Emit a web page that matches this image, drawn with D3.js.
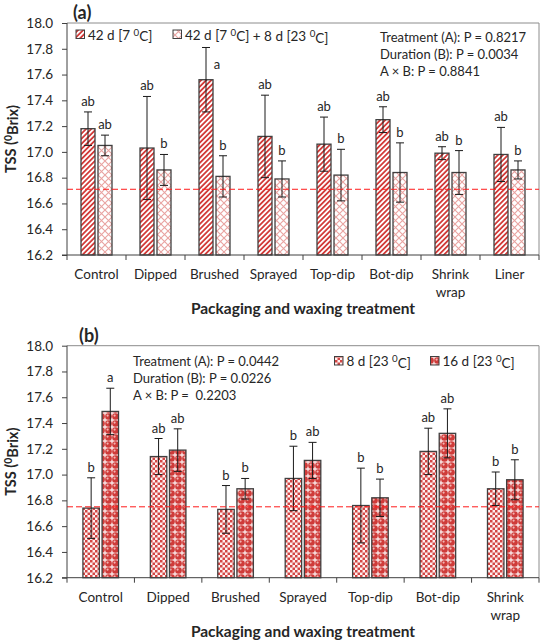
<!DOCTYPE html>
<html><head><meta charset="utf-8">
<script src="https://cdn.jsdelivr.net/npm/d3@7"></script>
<style>
body{margin:0;background:#fff}
svg{display:block}
text{font-family:Lato,"Open Sans",sans-serif;fill:#262626}
</style>
</head><body>
<svg id="chart" width="543" height="642"></svg>
<script>
// ---------- DATA ----------
const categoriesA = ["Control","Dipped","Brushed","Sprayed","Top-dip","Bot-dip","Shrink\nwrap","Liner"];
const seriesNamesA = ["42 d [7 ^0C]","42 d [7 ^0C] + 8 d [23 ^0C]"];
const meansA1 = [17.18,17.03,17.56,17.12,17.06,17.25,16.99,16.98];
const errA1   = [0.13,0.40,0.25,0.32,0.21,0.10,0.05,0.21];
const lettersA1 = ["ab","ab","a","ab","ab","ab","ab","ab"];
const meansA2 = [17.05,16.86,16.81,16.79,16.82,16.84,16.84,16.86];
const errA2   = [0.08,0.12,0.16,0.14,0.20,0.23,0.17,0.07];
const lettersA2 = ["ab","b","b","b","b","b","b","b"];
const refLineA = 16.71;
const statsA = ["Treatment (A): P = 0.8217","Duration (B): P = 0.0034","A × B: P = 0.8841"];

const categoriesB = ["Control","Dipped","Brushed","Sprayed","Top-dip","Bot-dip","Shrink\nwrap"];
const seriesNamesB = ["8 d [23 ^0C]","16 d [23 ^0C]"];
const meansB1 = [16.74,17.14,16.73,16.97,16.76,17.18,16.89];
const errB1   = [0.235,0.14,0.185,0.25,0.29,0.18,0.13];
const lettersB1 = ["b","ab","b","b","b","ab","b"];
const meansB2 = [17.49,17.19,16.89,17.11,16.82,17.32,16.96];
const errB2   = [0.18,0.165,0.08,0.14,0.145,0.19,0.155];
const lettersB2 = ["a","ab","b","ab","b","ab","b"];
const refLineB = 16.75;
const statsB = ["Treatment (A): P = 0.0442","Duration (B): P = 0.0226","A × B: P =  0.2203"];

const yTicks = [16.2,16.4,16.6,16.8,17.0,17.2,17.4,17.6,17.8,18.0];
const yTitle = "TSS (^0Brix)";
const xTitle = "Packaging and waxing treatment";

// ---------- DRAW ----------
const svg = d3.select("#chart");
const defs = svg.append("defs");

// patterns
(function(){
  let p = defs.append("pattern").attr("id","pStripe").attr("patternUnits","userSpaceOnUse")
    .attr("width",3.6).attr("height",3.6).attr("patternTransform","rotate(45)");
  p.append("rect").attr("width",3.6).attr("height",3.6).attr("fill","#fff");
  p.append("rect").attr("width",1.8).attr("height",3.6).attr("fill","#d23c3a");

  p = defs.append("pattern").attr("id","pCross").attr("patternUnits","userSpaceOnUse")
    .attr("width",7).attr("height",7);
  p.append("rect").attr("width",7).attr("height",7).attr("fill","#fff");
  p.append("path").attr("d","M0,0L7,7M7,0L0,7").attr("stroke","#e9a3a1").attr("stroke-width",1.1);

  p = defs.append("pattern").attr("id","pCheck").attr("patternUnits","userSpaceOnUse")
    .attr("width",5).attr("height",5);
  p.append("rect").attr("width",5).attr("height",5).attr("fill","#fdf1f1");
  p.append("rect").attr("width",2.5).attr("height",2.5).attr("fill","#d34644");
  p.append("rect").attr("x",2.5).attr("y",2.5).attr("width",2.5).attr("height",2.5).attr("fill","#d34644");

  p = defs.append("pattern").attr("id","pSphere").attr("patternUnits","userSpaceOnUse")
    .attr("width",7).attr("height",7);
  p.append("rect").attr("width",7).attr("height",7).attr("fill","#f6d8d8");
  p.append("circle").attr("cx",3.5).attr("cy",3.5).attr("r",3.3).attr("fill","#cf3b39");
  p.append("circle").attr("cx",2.6).attr("cy",2.6).attr("r",1.1).attr("fill","#f2b4b2");
})();

function superText(sel, str){
  const parts = str.split("^0");
  parts.forEach((s,i)=>{
    if(i>0){
      sel.append("tspan").attr("dy","-0.4em").attr("font-size","0.72em").text("0");
      sel.append("tspan").attr("dy","0.4em").text(s);
    } else sel.append("tspan").text(s);
  });
}

function panel(cfg){
  const g = svg.append("g");
  const {left,right,top,bottom} = cfg;
  const y = d3.scaleLinear().domain([16.2,18.0]).range([bottom,top]);
  const x0 = d3.scaleBand().domain(cfg.categories).range([left,right]).padding(0);
  const bw = x0.bandwidth();
  const x1 = d3.scaleBand().domain([0,1])
      .range([(bw-cfg.groupW)/2,(bw+cfg.groupW)/2]).paddingInner(cfg.gapRatio).paddingOuter(0);

  // plot border (top & right)
  g.append("path").attr("d",`M${left},${top}H${right}V${bottom}`)
    .attr("fill","none").attr("stroke","#8c8c8c").attr("stroke-width",1);

  // bars
  const series = [
    {m:cfg.m1,e:cfg.e1,l:cfg.l1,fill:cfg.fills[0]},
    {m:cfg.m2,e:cfg.e2,l:cfg.l2,fill:cfg.fills[1]}
  ];
  series.forEach((s,si)=>{
    cfg.categories.forEach((c,ci)=>{
      const bx = x0(c)+x1(si), w = x1.bandwidth(), cx = bx+w/2;
      const v = s.m[ci], e = s.e[ci];
      g.append("rect").attr("x",bx).attr("y",y(v)).attr("width",w).attr("height",y(16.2)-y(v))
        .attr("fill",`url(#${s.fill})`).attr("stroke","#404040").attr("stroke-width",1.3);
      const yt = y(v+e), yb = y(v-e);
      g.append("path").attr("d",`M${cx},${yt}V${yb}M${cx-4},${yt}H${cx+4}M${cx-4},${yb}H${cx+4}`)
        .attr("stroke","#1a1a1a").attr("stroke-width",1).attr("fill","none");
      let lx = cx, ly = yt-6;
      if (ly < top+30){ lx = cx+11; ly = yt+22; }
      g.append("text").attr("x",lx).attr("y",ly).attr("text-anchor","middle")
        .attr("font-size",cfg.fs).text(s.l[ci]);
    });
  });

  // reference line
  g.append("line").attr("x1",left).attr("x2",right).attr("y1",y(cfg.ref)).attr("y2",y(cfg.ref))
    .attr("stroke","#ff1a1a").attr("stroke-width",1).attr("stroke-dasharray","6,3");

  // y axis
  const ya = g.append("g").attr("transform",`translate(${left},0)`)
    .call(d3.axisLeft(y).tickValues(yTicks).tickFormat(d3.format(".1f")).tickSize(5).tickPadding(9));
  ya.select(".domain").attr("stroke","#404040").attr("d",`M0,${top}V${bottom}`);
  ya.selectAll(".tick line").attr("stroke","#404040");
  ya.selectAll(".tick text").attr("font-family","Lato").attr("font-size",cfg.fsTick).attr("fill","#262626");

  // x axis
  g.append("line").attr("x1",left-5).attr("x2",right).attr("y1",bottom).attr("y2",bottom)
    .attr("stroke","#404040").attr("stroke-width",1);
  const bounds = cfg.categories.map(c=>x0(c)).concat([x0(cfg.categories[cfg.categories.length-1])+bw]);
  bounds.forEach(b=>{
    g.append("line").attr("x1",b).attr("x2",b).attr("y1",bottom).attr("y2",bottom+5)
      .attr("stroke","#404040");
  });
  cfg.categories.forEach(c=>{
    const lines = c.split("\n");
    const t = g.append("text").attr("x",x0(c)+bw/2).attr("y",bottom+24)
      .attr("text-anchor","middle").attr("font-size",cfg.fsTick);
    lines.forEach((ln,i)=>t.append("tspan").attr("x",x0(c)+bw/2).attr("dy",i?18:0).text(ln));
  });

  // axis titles
  g.append("text").attr("x",(left+right)/2).attr("y",bottom+59).attr("text-anchor","middle")
    .attr("font-weight","bold").attr("font-size",15.5).text(xTitle);
  const yt = g.append("text").attr("transform",`translate(16,${(top+bottom)/2}) rotate(-90)`)
    .attr("text-anchor","middle").attr("font-weight","bold").attr("font-size",14.5);
  superText(yt, yTitle);

  // panel tag
  g.append("text").attr("x",cfg.tagX).attr("y",top-4).attr("font-weight","bold")
    .attr("font-size",18).text(cfg.tag);

  // legend
  cfg.legend.forEach((L,i)=>{
    g.append("rect").attr("x",L.x).attr("y",L.y-4.5).attr("width",8.5).attr("height",8.5)
      .attr("fill",`url(#${cfg.fills[i]})`).attr("stroke","#404040").attr("stroke-width",1);
    const t = g.append("text").attr("x",L.x+12).attr("y",L.y+5).attr("font-size",cfg.fsLeg);
    superText(t, cfg.seriesNames[i]);
  });

  // stats
  cfg.stats.forEach((s,i)=>{
    g.append("text").attr("x",cfg.statX).attr("y",cfg.statY+i*cfg.statDy)
      .attr("font-size",cfg.fsStat).attr("xml:space","preserve").text(s);
  });
}

panel({
  left:67,right:539,top:23,bottom:255,categories:categoriesA,groupW:31,gapRatio:3/17,
  m1:meansA1,e1:errA1,l1:lettersA1,m2:meansA2,e2:errA2,l2:lettersA2,
  fills:["pStripe","pCross"],ref:refLineA,tag:"(a)",tagX:73,
  legend:[{x:76,y:34.5},{x:173,y:34.5}],seriesNames:seriesNamesA,
  stats:statsA,statX:380,statY:41.5,statDy:17,
  fs:13,fsTick:13.5,fsLeg:13.5,fsStat:13
});
panel({
  left:67,right:539,top:345.7,bottom:577.7,categories:categoriesB,groupW:35.6,gapRatio:2.7/19.2,
  m1:meansB1,e1:errB1,l1:lettersB1,m2:meansB2,e2:errB2,l2:lettersB2,
  fills:["pCheck","pSphere"],ref:refLineB,tag:"(b)",tagX:79,
  legend:[{x:334.5,y:361},{x:430.5,y:361}],seriesNames:seriesNamesB,
  stats:statsB,statX:133,statY:366,statDy:17,
  fs:13,fsTick:13.5,fsLeg:13.5,fsStat:13
});
</script>
</body></html>
